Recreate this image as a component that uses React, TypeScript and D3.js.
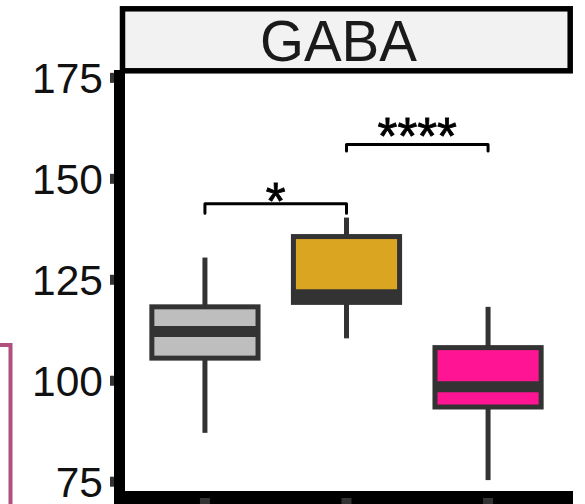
import React from "react";
import * as d3 from "d3";

// ---- data ----
const categories = ["Group 1", "Group 2", "Group 3"];
const lowerWhisker = [87.1, 110.5, 75.4];
const q1 = [105.6, 119.4, 93.5];
const median = [112.2, 121.3, 98.5];
const q3 = [118.3, 135.7, 108.2];
const upperWhisker = [130.5, 140.4, 118.3];
const fills = ["#BEBEBE", "#DAA520", "#FF1493"];

const yTicks = [75, 100, 125, 150, 175];
const stripLabel = "GABA";

const comparisons: [number, number][] = [
  [0, 1],
  [1, 2],
];
const bracketY = [143.8, 158.5];
const tipY = [141.45, 156.9];
const sigLabels = ["*", "****"];
const sigLabelY = [140.0, 156.1];

// ---- layout ----
const W = 585;
const H = 504;
const panelLeft = 120;
const panelRight = 573;
const panelTop = 73;
const panelBottom = 491;

const FONT = "'Liberation Sans', Arial, Helvetica, sans-serif";
const DARK = "#333333";

export default function App() {
  const x = d3
    .scalePoint<string>()
    .domain(categories)
    .range([panelLeft, panelRight])
    .padding(0.6);
  const y = d3
    .scaleLinear()
    .domain([72.7, 176.2])
    .range([panelBottom, panelTop]);
  const step = x.step();
  const boxW = step * 0.75;

  return (
    <svg
      width={W}
      height={H}
      style={{ position: "absolute", left: 0, top: 0, background: "#fff" }}
      fontFamily={FONT}
    >
      <rect x={0} y={0} width={W} height={H} fill="#ffffff" />
      {/* neighbouring element edge */}
      <path
        d={`M0,345 H10.5 V${H + 5}`}
        fill="none"
        stroke="#B0507F"
        strokeWidth={4}
      />

      {/* strip */}
      <rect
        x={122.5}
        y={8.8}
        width={570.2 - 122.5}
        height={70.8 - 8.8}
        fill="#F2F2F2"
        stroke="#000"
        strokeWidth={5.5}
      />
      <text
        x={(panelLeft + panelRight) / 2 - 8}
        y={60.7}
        textAnchor="middle"
        fontSize={56.5}
        fill="#1A1A1A"
      >
        {stripLabel}
      </text>

      {/* y ticks (under axis line) */}
      {yTicks.map((t) => (
        <g key={t}>
          <rect x={110} y={y(t) - 5} width={9} height={10} fill={DARK} />
          <text
            x={103}
            y={y(t)}
            dy="0.36em"
            textAnchor="end"
            fontSize={42.5}
            fill="#111"
          >
            {t}
          </text>
        </g>
      ))}

      {/* axis lines */}
      <line
        x1={119.5}
        x2={119.5}
        y1={panelTop - 3}
        y2={H + 5}
        stroke="#000"
        strokeWidth={11}
      />
      <line
        x1={114}
        x2={panelRight}
        y1={497.5}
        y2={497.5}
        stroke="#000"
        strokeWidth={13}
      />
      {/* x ticks (over axis line) */}
      {categories.map((c) => (
        <rect key={c} x={(x(c) as number) - 5} y={498} width={10} height={12} fill={DARK} />
      ))}

      {/* boxplots */}
      {categories.map((c, i) => {
        const cx = x(c) as number;
        return (
          <g key={c}>
            <line
              x1={cx}
              x2={cx}
              y1={y(q3[i])}
              y2={y(upperWhisker[i])}
              stroke={DARK}
              strokeWidth={5}
            />
            <line
              x1={cx}
              x2={cx}
              y1={y(q1[i])}
              y2={y(lowerWhisker[i])}
              stroke={DARK}
              strokeWidth={5}
            />
            <rect
              x={cx - boxW / 2}
              y={y(q3[i])}
              width={boxW}
              height={y(q1[i]) - y(q3[i])}
              fill={fills[i]}
              stroke={DARK}
              strokeWidth={5}
            />
            <line
              x1={cx - boxW / 2}
              x2={cx + boxW / 2}
              y1={y(median[i])}
              y2={y(median[i])}
              stroke={DARK}
              strokeWidth={11}
            />
          </g>
        );
      })}

      {/* significance brackets */}
      {comparisons.map(([a, b], k) => {
        const xa = x(categories[a]) as number;
        const xb = x(categories[b]) as number;
        const path = d3.path();
        path.moveTo(xa, y(tipY[k]));
        path.lineTo(xa, y(bracketY[k]));
        path.lineTo(xb, y(bracketY[k]));
        path.lineTo(xb, y(tipY[k]));
        return (
          <g key={k}>
            <path
              d={path.toString()}
              fill="none"
              stroke="#000"
              strokeWidth={3}
              strokeLinejoin="round"
              strokeLinecap="round"
            />
            <text
              x={(xa + xb) / 2}
              y={y(sigLabelY[k])}
              textAnchor="middle"
              fontSize={51}
              fill="#000"
              stroke="#000"
              strokeWidth={0.8}
            >
              {sigLabels[k]}
            </text>
          </g>
        );
      })}
    </svg>
  );
}
